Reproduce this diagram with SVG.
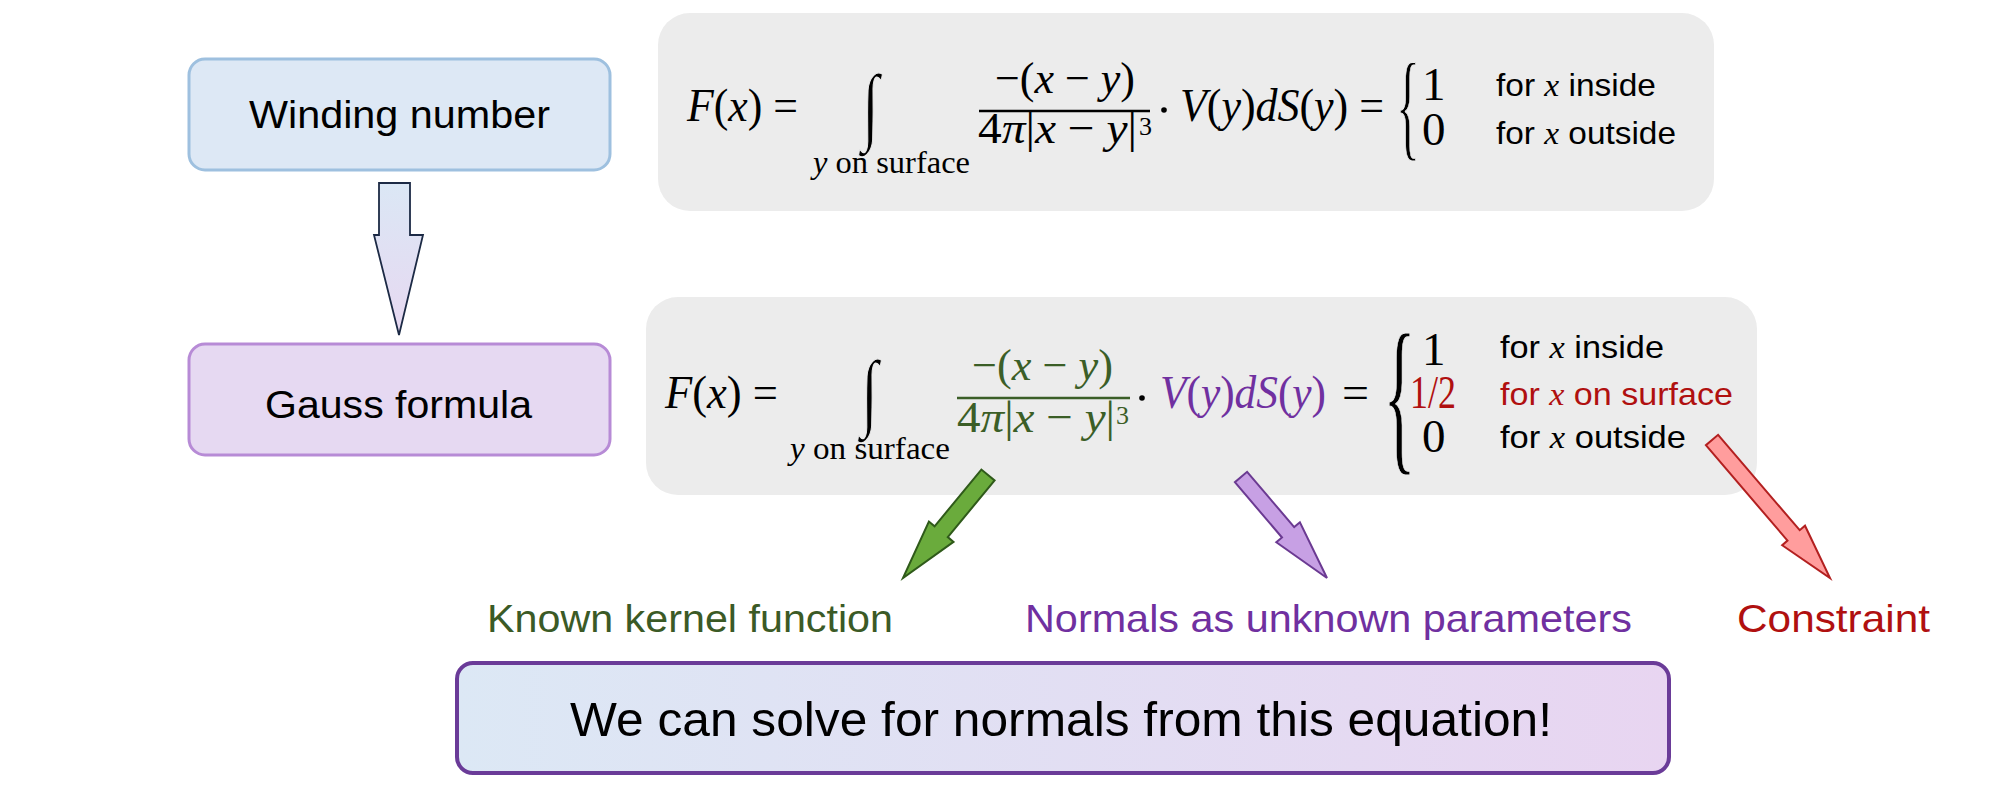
<svg xmlns="http://www.w3.org/2000/svg" width="2000" height="794" viewBox="0 0 2000 794">
<style>
.m{font-family:"Liberation Serif","Times New Roman",serif}
.i{font-style:italic}
.s{font-family:"Liberation Sans",Arial,sans-serif}
.t{font-family:"Liberation Serif","Times New Roman",serif;font-style:italic}
.lab{font-family:"Liberation Sans",Arial,sans-serif;font-size:39px}
.node{font-family:"Liberation Sans",Arial,sans-serif;font-size:38px}
.gray{fill:#ececec}
.thin{stroke:#ececec;stroke-width:1.2}
</style>
<defs>
<linearGradient id="gDown" x1="0" y1="0" x2="0" y2="1">
<stop offset="0" stop-color="#dbe7f5"/><stop offset="1" stop-color="#e7d8f1"/>
</linearGradient>
<linearGradient id="gBottom" x1="0" y1="0" x2="1" y2="0">
<stop offset="0" stop-color="#dce8f5"/><stop offset="1" stop-color="#e8d5f1"/>
</linearGradient>
</defs>
<rect width="2000" height="794" fill="#fff"/>

<g id="winding">
<rect x="189" y="59" width="421" height="111" rx="16" fill="#dde8f5" stroke="#9ec0df" stroke-width="3"/>
<text class="node" x="249" y="128" textLength="301" lengthAdjust="spacingAndGlyphs">Winding number</text>
</g>

<g id="gauss">
<rect x="189" y="344" width="421" height="111" rx="16" fill="#e6d9f2" stroke="#b78bd6" stroke-width="3"/>
<text class="node" x="265" y="418" textLength="267" lengthAdjust="spacingAndGlyphs">Gauss formula</text>
</g>

<g id="formula1">
<rect class="gray" x="658" y="13" width="1056" height="198" rx="32"/>
<text class="m" x="687" y="121" font-size="47" textLength="111" lengthAdjust="spacingAndGlyphs"><tspan class="i">F</tspan>(<tspan class="i">x</tspan>) =</text>
<text class="m thin" font-size="84" transform="translate(862,134) scale(0.75,1.02)">∫</text>
<text class="m" x="813" y="173" font-size="31" textLength="157" lengthAdjust="spacingAndGlyphs"><tspan class="i">y</tspan> on surface</text>
<text class="m" x="995" y="93" font-size="45" textLength="140" lengthAdjust="spacingAndGlyphs">−(<tspan class="i">x</tspan> − <tspan class="i">y</tspan>)</text>
<line x1="979" y1="111" x2="1150" y2="111" stroke="#000" stroke-width="2.4"/>
<text class="m" x="978" y="143" font-size="45" textLength="159" lengthAdjust="spacingAndGlyphs">4<tspan class="i">π</tspan>|<tspan class="i">x</tspan> − <tspan class="i">y</tspan>|</text>
<text class="m" x="1139" y="135" font-size="26">3</text>
<circle cx="1164" cy="110" r="2.8" fill="#000"/>
<text class="m" x="1180" y="121" font-size="47" textLength="204" lengthAdjust="spacingAndGlyphs"><tspan class="i">V</tspan>(<tspan class="i">y</tspan>)<tspan class="i">dS</tspan>(<tspan class="i">y</tspan>) =</text>
<text class="m thin" font-size="118" transform="translate(1396,145) scale(0.42,1)">{</text>
<text class="m" x="1422" y="100" font-size="47">1</text>
<text class="m" x="1422" y="145" font-size="47">0</text>
<text class="s" x="1496" y="96" font-size="32" textLength="160" lengthAdjust="spacingAndGlyphs">for <tspan class="t">x</tspan> inside</text>
<text class="s" x="1496" y="144" font-size="32" textLength="180" lengthAdjust="spacingAndGlyphs">for <tspan class="t">x</tspan> outside</text>
</g>

<g id="formula2">
<rect class="gray" x="646" y="297" width="1111" height="198" rx="32"/>
<text class="m" x="665" y="408" font-size="47" textLength="113" lengthAdjust="spacingAndGlyphs"><tspan class="i">F</tspan>(<tspan class="i">x</tspan>) =</text>
<text class="m thin" font-size="84" transform="translate(861,420) scale(0.75,1.02)">∫</text>
<text class="m" x="790" y="459" font-size="31" textLength="160" lengthAdjust="spacingAndGlyphs"><tspan class="i">y</tspan> on surface</text>
<text class="m" x="972" y="380" font-size="45" textLength="141" lengthAdjust="spacingAndGlyphs" fill="#3b5e27">−(<tspan class="i">x</tspan> − <tspan class="i">y</tspan>)</text>
<line x1="957" y1="398" x2="1130" y2="398" stroke="#3b5e27" stroke-width="2.6"/>
<text class="m" x="957" y="432" font-size="45" textLength="158" lengthAdjust="spacingAndGlyphs" fill="#3b5e27">4<tspan class="i">π</tspan>|<tspan class="i">x</tspan> − <tspan class="i">y</tspan>|</text>
<text class="m" x="1116" y="424" font-size="26" fill="#3b5e27">3</text>
<circle cx="1142" cy="398" r="2.8" fill="#000"/>
<text class="m" x="1160" y="408" font-size="47" textLength="166" lengthAdjust="spacingAndGlyphs" fill="#7030a0"><tspan class="i">V</tspan>(<tspan class="i">y</tspan>)<tspan class="i">dS</tspan>(<tspan class="i">y</tspan>)</text>
<text class="m" x="1342" y="408" font-size="47" textLength="27" lengthAdjust="spacingAndGlyphs">=</text>
<text class="m thin" font-size="172" transform="translate(1383,452) scale(0.4,1)">{</text>
<text class="m" x="1422" y="365" font-size="47">1</text>
<text class="m" x="1410" y="408" font-size="47" textLength="46" lengthAdjust="spacingAndGlyphs" fill="#b01010">1/2</text>
<text class="m" x="1422" y="452" font-size="47">0</text>
<text class="s" x="1500" y="358" font-size="32" textLength="164" lengthAdjust="spacingAndGlyphs">for <tspan class="t">x</tspan> inside</text>
<text class="s" x="1500" y="405" font-size="32" textLength="233" lengthAdjust="spacingAndGlyphs" fill="#b01010">for <tspan class="t">x</tspan> on surface</text>
<text class="s" x="1500" y="448" font-size="32" textLength="186" lengthAdjust="spacingAndGlyphs">for <tspan class="t">x</tspan> outside</text>
</g>

<g id="label-kernel">
<text class="lab" x="487" y="632" textLength="406" lengthAdjust="spacingAndGlyphs" fill="#3b5a26">Known kernel function</text>
</g>
<g id="label-normals">
<text class="lab" x="1025" y="632" textLength="607" lengthAdjust="spacingAndGlyphs" fill="#7030a0">Normals as unknown parameters</text>
</g>
<g id="label-constraint">
<text class="lab" x="1737" y="632" textLength="193" lengthAdjust="spacingAndGlyphs" fill="#b01010">Constraint</text>
</g>

<g id="conclusion">
<rect x="457" y="663" width="1212" height="110" rx="16" fill="url(#gBottom)" stroke="#6a3b98" stroke-width="4"/>
<text class="s" x="570" y="736" font-size="49" textLength="982" lengthAdjust="spacingAndGlyphs">We can solve for normals from this equation!</text>
</g>

<g id="connectors" stroke-linejoin="miter">
<polygon points="379,183 410,183 410,235 423,235 399,335 374,235 379,235" fill="url(#gDown)" stroke="#1c2a45" stroke-width="1.8"/>
<polygon points="981.4,469.6 934.6,526.3 928.9,521.5 903,578 953.5,541.9 947.8,537.1 994.6,480.4" fill="#6aab3c" stroke="#2f5a1a" stroke-width="2"/>
<polygon points="1247.1,471.8 1294.2,527.1 1299.9,522.3 1327,578 1276.3,542.3 1282.0,537.5 1234.9,482.2" fill="#c7a0e4" stroke="#6b3a92" stroke-width="2"/>
<polygon points="1718.1,434.8 1799.7,530.2 1805.0,525.7 1830,578 1782.2,545.2 1787.5,540.6 1705.9,445.2" fill="#ff9d9d" stroke="#b32020" stroke-width="2"/>
</g>
</svg>
